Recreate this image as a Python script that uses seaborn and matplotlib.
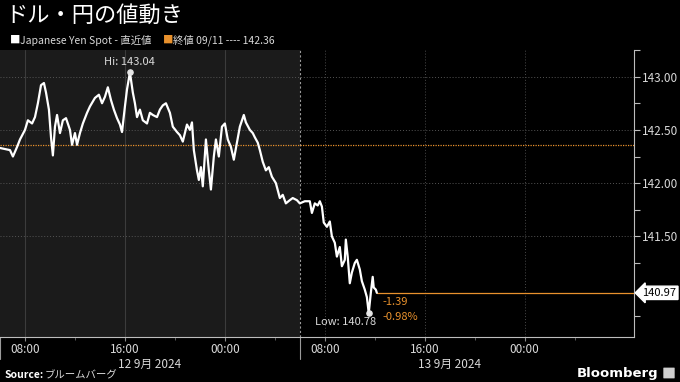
import matplotlib
matplotlib.use("Agg")
import matplotlib.pyplot as plt
import matplotlib.dates as mdates
import matplotlib.ticker as mticker
from matplotlib.patches import FancyBboxPatch
import seaborn as sns
import pandas as pd

# ---------------- data ----------------
title = "ドル・円の値動き"
series_label = "Japanese Yen Spot - 直近値"
prev_label = "終値 09/11 ---- 142.36"
prev_close = 142.36
last_value = 140.97
change_abs = "-1.39"
change_pct = "-0.98%"
day_labels = ["12 9月 2024", "13 9月 2024"]
source_label = "ブルームバーグ"
x_tick_times = ["2024-09-12 08:00", "2024-09-12 16:00", "2024-09-13 00:00",
                "2024-09-13 08:00", "2024-09-13 16:00", "2024-09-14 00:00"]
y_major_ticks = [141.5, 142.0, 142.5, 143.0]

day12_times = ["06:00", "06:24", "06:48", "07:02", "07:22", "07:36", "08:00", "08:14", "08:34", "08:48",
               "09:02", "09:17", "09:31", "09:41", "09:55", "10:05", "10:14", "10:24", "10:34", "10:48",
               "11:02", "11:17", "11:36", "11:46", "12:00", "12:10", "12:24", "12:38", "12:58", "13:12",
               "13:36", "13:55", "14:10", "14:24", "14:38", "14:53", "15:07", "15:22", "15:36", "15:46",
               "16:00", "16:10", "16:24", "16:38", "16:48", "16:58", "17:12", "17:26", "17:46", "18:00",
               "18:14", "18:34", "18:48", "19:02", "19:17", "19:36", "19:50", "20:10", "20:24", "20:38",
               "20:58", "21:12", "21:22", "21:31", "21:46", "21:55", "22:05", "22:14", "22:29", "22:43",
               "22:53", "23:07", "23:17", "23:31", "23:46"]
day12_values = [142.33, 142.32, 142.31, 142.25, 142.34, 142.41, 142.50, 142.59, 142.56, 142.62,
                142.75, 142.92, 142.94, 142.85, 142.69, 142.43, 142.26, 142.53, 142.64, 142.47,
                142.59, 142.61, 142.50, 142.36, 142.47, 142.36, 142.47, 142.56, 142.66, 142.72,
                142.80, 142.83, 142.75, 142.81, 142.90, 142.78, 142.69, 142.61, 142.55, 142.48,
                142.72, 142.88, 143.04, 142.85, 142.75, 142.62, 142.69, 142.59, 142.56, 142.66,
                142.64, 142.62, 142.69, 142.73, 142.75, 142.66, 142.53, 142.48, 142.45, 142.39,
                142.55, 142.50, 142.57, 142.31, 142.12, 142.03, 142.15, 141.97, 142.41, 142.12,
                141.94, 142.25, 142.41, 142.25, 142.53]

day13_times = ["00:00", "00:14", "00:29", "00:43", "00:58", "01:12", "01:31", "01:41", "02:00", "02:14",
               "02:24", "02:38", "02:48", "03:02", "03:17", "03:31", "03:46", "04:05", "04:24", "04:38",
               "04:53", "05:12", "05:26", "05:46", "06:00", "06:24", "06:48", "06:58", "07:12", "07:26",
               "07:36", "07:46", "07:55", "08:10", "08:24", "08:34", "08:48", "08:58", "09:12", "09:22",
               "09:36", "09:41", "09:50", "10:00", "10:10", "10:24", "10:34", "10:48", "10:58", "11:12",
               "11:22", "11:31", "11:41", "11:50", "11:55", "12:05", "12:10"]
day13_values = [142.56, 142.41, 142.34, 142.22, 142.38, 142.53, 142.64, 142.57, 142.50, 142.47,
                142.43, 142.38, 142.31, 142.20, 142.12, 142.15, 142.06, 142.00, 141.86, 141.89,
                141.81, 141.84, 141.86, 141.84, 141.81, 141.83, 141.83, 141.72, 141.81, 141.79,
                141.83, 141.78, 141.63, 141.59, 141.64, 141.50, 141.44, 141.31, 141.40, 141.22,
                141.28, 141.47, 141.31, 141.06, 141.16, 141.25, 141.28, 141.19, 141.08, 141.00,
                140.93, 140.78, 140.97, 141.12, 141.02, 141.00, 140.97]

df = pd.DataFrame({
    "time": pd.to_datetime(["2024-09-12 " + t for t in day12_times] + ["2024-09-13 " + t for t in day13_times]),
    "price": day12_values + day13_values,
})

x_start = pd.Timestamp("2024-09-12 06:00")
x_end = pd.Timestamp("2024-09-14 08:45")
session_split = pd.Timestamp("2024-09-13 06:00")
day_end = pd.Timestamp("2024-09-14 06:00")

# ---------------- style ----------------
sns.set_theme(style="dark", rc={
    "figure.facecolor": "black",
    "axes.facecolor": "black",
    "savefig.facecolor": "black",
    "text.color": "#d9d9d9",
    "xtick.color": "#d9d9d9",
    "ytick.color": "#d9d9d9",
    "axes.edgecolor": "#bdbdbd",
})
plt.rcParams["font.family"] = ["Noto Sans CJK JP", "DejaVu Sans"]

ORANGE = "#e8912d"
TXT = "#d9d9d9"

fig = plt.figure(figsize=(6.8, 3.82), dpi=100)
ax = fig.add_axes([0.0, (382 - 336.5) / 382, 634 / 680, (336.5 - 50) / 382])

# shaded earlier session
ax.axvspan(x_start, session_split, color="#1b1b1b", zorder=0, lw=0)
ax.axvline(session_split, color="#9a9a9a", lw=0.8, ls=(0, (2, 2)), zorder=1)

# grid
for yv in y_major_ticks:
    ax.axhline(yv, color="#555555", lw=0.7, ls=(0, (1, 2)), zorder=1)
for xv in pd.to_datetime(x_tick_times):
    if xv < session_split:
        ax.axvline(xv, color="#3c3c3c", lw=0.8, zorder=1)
    else:
        ax.axvline(xv, color="#4a4a4a", lw=0.7, ls=(0, (1, 2)), zorder=1)

# reference lines
ax.axhline(prev_close, color=ORANGE, lw=0.9, ls=(0, (1, 1)), zorder=2)
last_t = df["time"].iloc[-1]
ax.plot([last_t, x_end], [last_value, last_value], color=ORANGE, lw=0.9, zorder=2)

# series
sns.lineplot(data=df, x="time", y="price", ax=ax, color="white", lw=1.6, zorder=4)

# hi / lo
ihi = df["price"].idxmax()
ilo = df["price"].idxmin()
ax.scatter([df["time"][ihi], df["time"][ilo]], [df["price"][ihi], df["price"][ilo]],
           s=14, color="#e6e6e6", zorder=5)
ax.annotate(f"Hi: {df['price'][ihi]:.2f}", (df["time"][ihi], df["price"][ihi]),
            xytext=(0, 4), textcoords="offset points", ha="center", va="bottom",
            fontsize=8, color=TXT)
ax.annotate(f"Low: {df['price'][ilo]:.2f}", (df["time"][ilo], df["price"][ilo]),
            xytext=(5, -3), textcoords="offset points", ha="right", va="top",
            fontsize=8, color=TXT)
ax.annotate(change_abs, (last_t, last_value), xytext=(4, -3), textcoords="offset points",
            ha="left", va="top", fontsize=8, color=ORANGE)
ax.annotate(change_pct, (last_t, last_value), xytext=(4, -14), textcoords="offset points",
            ha="left", va="top", fontsize=8, color=ORANGE)

# last value label on axis
ax.annotate(f"{last_value:.2f}", xy=(1.0, last_value), xycoords=("axes fraction", "data"),
            xytext=(6, 0), textcoords="offset points", ha="left", va="center",
            fontsize=8, color="black", annotation_clip=False, zorder=10,
            bbox=dict(boxstyle="larrow,pad=0.15", fc="white", ec="white"))

# axes limits / ticks
ax.set_xlim(x_start, x_end)
ax.set_ylim(140.56, 143.25)
ax.yaxis.tick_right()
ax.yaxis.set_major_locator(mticker.FixedLocator(y_major_ticks))
ax.yaxis.set_minor_locator(mticker.FixedLocator([140.75, 141.25, 141.75, 142.25, 142.75, 143.25]))
ax.yaxis.set_major_formatter(mticker.FormatStrFormatter("%.2f"))
ax.tick_params(axis="y", which="major", length=4, width=0.8, color="#bdbdbd", pad=2, labelsize=8.5,
               right=True, left=False)
ax.tick_params(axis="y", which="minor", length=4, width=0.8, color="#bdbdbd", right=True, left=False)

ax.xaxis.set_major_locator(mticker.FixedLocator(mdates.date2num(pd.to_datetime(x_tick_times))))
ax.xaxis.set_minor_locator(mdates.HourLocator(byhour=[4, 12, 20]))
ax.xaxis.set_major_formatter(mdates.DateFormatter("%H:%M"))
ax.tick_params(axis="x", which="major", length=3, width=0.8, color="#888888", pad=2, labelsize=8.5,
               bottom=True)
ax.tick_params(axis="x", which="minor", length=2, width=0.6, color="#666666", bottom=True)
ax.set_xlabel("")
ax.set_ylabel("")
ax.grid(False)

for s in ["top", "left"]:
    ax.spines[s].set_visible(False)
ax.spines["right"].set_color("#bdbdbd")
ax.spines["bottom"].set_color("#bdbdbd")
ax.spines["right"].set_linewidth(0.8)
ax.spines["bottom"].set_linewidth(0.8)

# day labels and separators
trans = ax.get_xaxis_transform()
day_mid = [x_start + (session_split - x_start) / 2, session_split + (day_end - session_split) / 2]
for xm, lab in zip(day_mid, day_labels):
    ax.text(xm, -0.075, lab, transform=trans, ha="center", va="top", fontsize=8.5, color=TXT)
for xs in [x_start, session_split]:
    ax.plot([xs, xs], [0, -0.08], transform=trans, color="#9a9a9a", lw=0.8, clip_on=False)

# title & legend
fig.text(5 / 680, 1 - 15 / 382, title, ha="left", va="center", fontsize=16, color="white")
fig.text(10 / 680, 1 - 40 / 382, "■", ha="left", va="center", fontsize=7.5, color="white")
fig.text(20 / 680, 1 - 40 / 382, series_label, ha="left", va="center", fontsize=7.5, color=TXT)
fig.text(163 / 680, 1 - 40 / 382, "■", ha="left", va="center", fontsize=7.5, color=ORANGE)
fig.text(173 / 680, 1 - 40 / 382, prev_label, ha="left", va="center", fontsize=7.5, color=TXT)

# footer
fig.text(5 / 680, 1 - 375 / 382, "Source:", ha="left", va="center", fontsize=7.5,
         fontweight="bold", color="white")
fig.text(45 / 680, 1 - 375 / 382, source_label, ha="left", va="center", fontsize=7.5, color=TXT)
fig.text(658 / 680, 1 - 373 / 382, "Bloomberg", ha="right", va="center", fontsize=9.5,
         fontweight="bold", color="white", family="DejaVu Sans")
fig.patches.append(FancyBboxPatch((664 / 680, (382 - 378) / 382), 10 / 680, 10 / 382,
                                  boxstyle="round,pad=0.001", transform=fig.transFigure,
                                  fc="#cfcfcf", ec="none"))

fig.savefig("out.png", dpi=100, facecolor="black")
